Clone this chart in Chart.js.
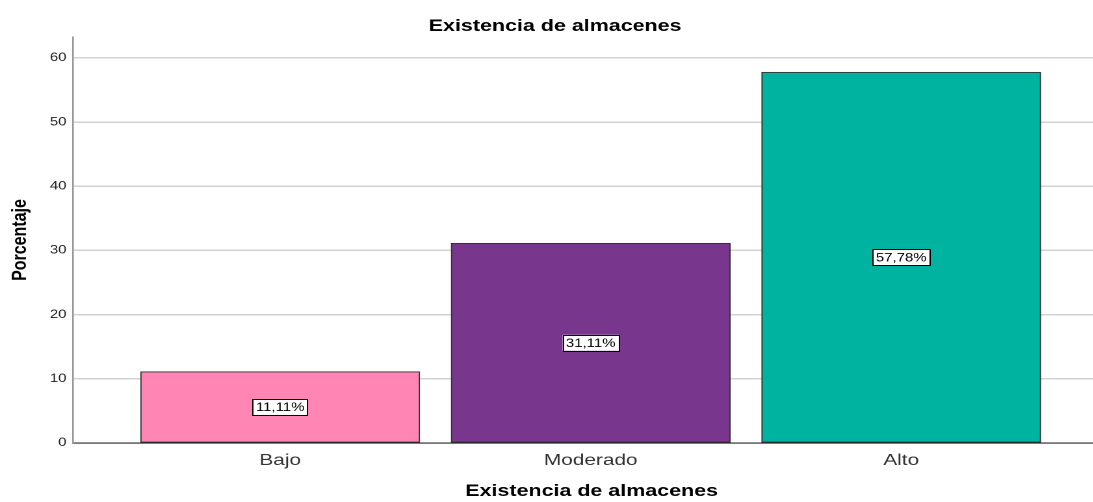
<!DOCTYPE html>
<html>
<head>
<meta charset="utf-8">
<script src="https://cdn.jsdelivr.net/npm/chart.js@4"></script>
<style>
    html, body { margin: 0; padding: 0; background: #fff; overflow: hidden; }
    /* the chart is laid out narrow and widened horizontally, like the SPSS export */
    #wrap { width: 854px; height: 502px; transform: scaleX(1.3); transform-origin: 0 0; }
</style>
</head>
<body>
<div id="wrap"><canvas id="myChart"></canvas></div>
<script>
var categories = ['Bajo', 'Moderado', 'Alto'];
var porcentajes = [11.11, 31.11, 57.78];
var yTicks = [0, 10, 20, 30, 40, 50, 60];
var barColors = ['#ff85b4', '#78368c', '#00b3a1'];

var font = 'Liberation Sans';

// white boxes with the percentage in the middle of each bar
var etiquetas = {
    id: 'etiquetas',
    afterDatasetsDraw: function(chart) {
        var ctx = chart.ctx;
        var meta = chart.getDatasetMeta(0);
        ctx.save();
        ctx.font = '11.5px "' + font + '"';
        ctx.textAlign = 'center';
        ctx.textBaseline = 'middle';
        meta.data.forEach(function(bar, i) {
            var txt = porcentajes[i].toFixed(2).replace('.', ',') + '%';
            var w = ctx.measureText(txt).width + 5;
            var h = 16;
            var cy = (bar.y + bar.base) / 2;
            ctx.fillStyle = '#fff';
            ctx.fillRect(bar.x - w / 2, cy - h / 2, w, h);
            ctx.strokeStyle = '#000';
            ctx.lineWidth = 1;
            ctx.strokeRect(Math.round(bar.x - w / 2) + 0.5, Math.round(cy - h / 2) + 0.5, Math.round(w), h);
            ctx.fillStyle = '#000';
            ctx.fillText(txt, bar.x, cy + 1);
        });
        ctx.restore();
    }
};

var ctx = document.getElementById('myChart').getContext('2d');
var myChart = new Chart(ctx, {
    type: 'bar',
    data: {
        datasets: [{
            label: 'Porcentaje',
            data: porcentajes.map(function(v, i) { return { x: i, y: v }; }),
            backgroundColor: barColors,
            borderColor: '#333',
            borderWidth: 1,
            borderSkipped: false,
            barThickness: 214.6
        }]
    },
    options: {
        responsive: true,
        maintainAspectRatio: false,
        animation: false,
        devicePixelRatio: 2,
        layout: { padding: 0 },
        plugins: {
            legend: { display: false },
            tooltip: { enabled: false },
            title: {
                display: true,
                text: 'Existencia de almacenes',
                color: '#000',
                font: { family: font, size: 16.5, weight: 'bold', lineHeight: 1.2 },
                padding: { top: 16.5, bottom: 0.7 }
            }
        },
        scales: {
            x: {
                type: 'linear',
                offset: false,
                min: -0.667,
                max: 2.673,
                afterFit: function(scale) { scale.height = 59; },
                afterBuildTicks: function(scale) {
                    scale.ticks = categories.map(function(c, i) { return { value: i }; });
                },
                grid: { display: false, drawTicks: false },
                border: { display: true, color: '#222', width: 1 },
                ticks: {
                    padding: 8,
                    color: '#333',
                    font: { family: font, size: 16 },
                    callback: function(value) { return categories[value]; }
                },
                title: {
                    display: true,
                    text: 'Existencia de almacenes',
                    color: '#000',
                    font: { family: font, size: 16.5, weight: 'bold', lineHeight: 1.2 },
                    padding: { top: 0, bottom: 0.6 }
                }
            },
            y: {
                min: 0,
                max: 63.27,
                afterFit: function(scale) { scale.width = 56.2; },
                afterBuildTicks: function(scale) {
                    scale.ticks = yTicks.map(function(v) { return { value: v }; });
                },
                grid: { color: '#d2d2d2', lineWidth: 1.5, drawTicks: false },
                border: { display: true, color: '#999', width: 1.3 },
                ticks: {
                    padding: 5,
                    color: '#222',
                    font: { family: font, size: 11.5 }
                },
                title: {
                    display: true,
                    text: 'Porcentaje',
                    color: '#000',
                    font: { family: font, size: 16, weight: 'bold', lineHeight: 1.2 },
                    padding: { top: 5.8, bottom: 0 }
                }
            }
        }
    },
    plugins: [etiquetas]
});
</script>
</body>
</html>
